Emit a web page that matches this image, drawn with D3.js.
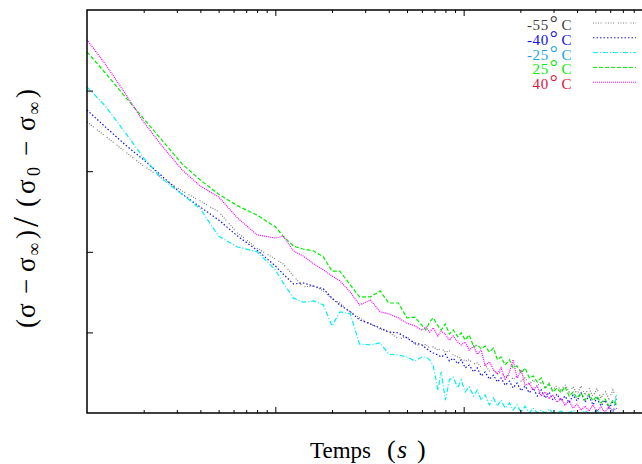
<!DOCTYPE html>
<html>
<head>
<meta charset="utf-8">
<script src="https://cdn.jsdelivr.net/npm/d3@7"></script>
<style>
  body { margin: 0; background: #fff; }
  text { font-family: "Liberation Serif", "DejaVu Serif", serif; }
</style>
</head>
<body>
<svg id="chart" width="642" height="464"></svg>
<script>

// time (s), common to every series
var temps = [1, 1.25, 1.6, 2, 2.5, 3.2, 4, 5, 6.3, 8,
  10, 11, 12.5, 14, 16, 18, 20, 22, 25, 28,
  32, 36, 40, 45, 50, 55, 60, 63, 66, 69,
  73, 76, 80, 84, 88, 93, 97, 102, 107, 113,
  118, 124, 130, 137, 144, 151, 158, 166, 175, 183,
  192, 202, 212, 223, 234, 246, 258, 271, 284, 298,
  313, 329, 345, 363, 381, 400, 420, 441, 463, 486,
  510, 536, 563, 591, 620, 650];

var legendLabels = ["-55", "-40", "-25", "25", "40"];

var m55 = [0.722, 0.687, 0.648, 0.613, 0.583, 0.551, 0.526, 0.499, 0.447, 0.409,
  0.382, 0.370, 0.340, 0.313, 0.315, 0.303, 0.283, 0.273, 0.251, 0.236,
  0.221, 0.208, 0.203, 0.184, 0.189, 0.171, 0.166, 0.171, 0.161, 0.164,
  0.156, 0.161, 0.151, 0.154, 0.144, 0.139, 0.136, 0.129, 0.132, 0.122,
  0.124, 0.114, 0.119, 0.104, 0.107, 0.097, 0.102, 0.089, 0.094, 0.084,
  0.092, 0.079, 0.087, 0.072, 0.082, 0.067, 0.077, 0.062, 0.074, 0.057,
  0.069, 0.055, 0.072, 0.052, 0.065, 0.047, 0.067, 0.045, 0.062, 0.040,
  0.060, 0.037, 0.055, 0.035, 0.057, 0.032];

var m40 = [0.752, 0.710, 0.665, 0.628, 0.588, 0.543, 0.511, 0.479, 0.439, 0.404,
  0.365, 0.345, 0.320, 0.323, 0.315, 0.308, 0.285, 0.268, 0.251, 0.231,
  0.221, 0.211, 0.201, 0.199, 0.186, 0.174, 0.169, 0.161, 0.154, 0.149,
  0.144, 0.139, 0.146, 0.129, 0.136, 0.122, 0.132, 0.112, 0.119, 0.102,
  0.112, 0.092, 0.102, 0.084, 0.094, 0.077, 0.087, 0.069, 0.079, 0.062,
  0.074, 0.055, 0.067, 0.050, 0.062, 0.042, 0.057, 0.037, 0.052, 0.032,
  0.047, 0.030, 0.042, 0.025, 0.045, 0.030, 0.050, 0.027, 0.042, 0.020,
  0.037, 0.017, 0.032, 0.012, 0.027, 0.017];

var m25 = [0.809, 0.762, 0.695, 0.633, 0.581, 0.543, 0.506, 0.439, 0.412, 0.400,
  0.355, 0.323, 0.285, 0.275, 0.278, 0.268, 0.216, 0.251, 0.246, 0.171,
  0.169, 0.174, 0.146, 0.144, 0.139, 0.129, 0.139, 0.139, 0.132, 0.117,
  0.057, 0.102, 0.032, 0.082, 0.089, 0.062, 0.082, 0.052, 0.065, 0.042,
  0.057, 0.032, 0.045, 0.020, 0.037, 0.017, 0.032, 0.012, 0.025, 0.007,
  0.020, 0.002, 0.017, 0.000, 0.012, 0.000, 0.007, 0.000, 0.010, 0.000,
  0.000, 0.005, 0.000, 0.000, 0.007, 0.000, 0.000, 0.005, 0.000, 0.000,
  0.007, 0.000, 0.000, 0.002, 0.000, 0.045];

var p25 = [0.896, 0.844, 0.784, 0.730, 0.677, 0.618, 0.578, 0.543, 0.514, 0.491,
  0.462, 0.439, 0.414, 0.407, 0.402, 0.387, 0.352, 0.352, 0.318, 0.288,
  0.288, 0.303, 0.273, 0.273, 0.236, 0.238, 0.218, 0.206, 0.226, 0.236,
  0.216, 0.206, 0.221, 0.196, 0.206, 0.189, 0.199, 0.181, 0.194, 0.164,
  0.169, 0.159, 0.166, 0.151, 0.161, 0.132, 0.139, 0.119, 0.132, 0.112,
  0.117, 0.099, 0.112, 0.087, 0.092, 0.077, 0.087, 0.062, 0.072, 0.052,
  0.062, 0.050, 0.065, 0.042, 0.052, 0.037, 0.050, 0.032, 0.047, 0.030,
  0.042, 0.025, 0.035, 0.017, 0.032, 0.020];

var p40 = [0.926, 0.866, 0.792, 0.722, 0.663, 0.603, 0.563, 0.536, 0.484, 0.442,
  0.434, 0.439, 0.402, 0.390, 0.370, 0.355, 0.340, 0.328, 0.300, 0.268,
  0.280, 0.251, 0.246, 0.236, 0.223, 0.216, 0.206, 0.213, 0.201, 0.211,
  0.191, 0.203, 0.196, 0.181, 0.191, 0.176, 0.169, 0.176, 0.156, 0.166,
  0.146, 0.156, 0.117, 0.127, 0.107, 0.097, 0.112, 0.082, 0.102, 0.132,
  0.087, 0.107, 0.069, 0.074, 0.057, 0.067, 0.042, 0.052, 0.035, 0.045,
  0.027, 0.037, 0.020, 0.030, 0.012, 0.022, 0.007, 0.017, 0.005, 0.020,
  0.005, 0.015, 0.002, 0.017, 0.005, 0.012];

var series = [
  {values: m55, line: "#7a7a7a", text: "#404040", dash: "1,1.5,1,1.5,1,1.5,1,4"},
  {values: m40, line: "#1414e0", text: "#1010ee", dash: "1.5,2"},
  {values: m25, line: "#00f0f0", text: "#1aa3e8", dash: "5,2,1,2"},
  {values: p25, line: "#00ee00", text: "#00ee00", dash: "4,2"},
  {values: p40, line: "#ff00ff", text: "#dc143c", dash: "1,1"}
];

var svg = d3.select("#chart");

var plotLeft = 87, plotTop = 10, plotBottom = 413, plotRight = 652;

var x = d3.scaleLog().domain([1, 1000]).range([plotLeft, plotRight]);
var y = d3.scaleLinear().domain([0, 1]).range([plotBottom, plotTop]);

svg.append("clipPath").attr("id", "plot-clip")
  .append("rect")
  .attr("x", plotLeft).attr("y", plotTop)
  .attr("width", plotRight - plotLeft).attr("height", plotBottom - plotTop);

// curves
var line = d3.line()
  .x(function(d){ return x(d[0]); })
  .y(function(d){ return y(d[1]); });

var curves = svg.append("g").attr("clip-path", "url(#plot-clip)");

series.forEach(function(s){
  var pts = temps.map(function(t, i){ return [t, s.values[i]]; });
  curves.append("path")
    .datum(pts)
    .attr("d", line)
    .attr("fill", "none")
    .attr("stroke", s.line)
    .attr("stroke-width", 1.2)
    .attr("stroke-dasharray", s.dash);
});

// ticks: log x, minor 2..9, major on decades
var xTicks = x.ticks().filter(function(t){ return t > 1 && t < 1000; });
function isMajor(t){ return Math.abs(Math.log10(t) - Math.round(Math.log10(t))) < 1e-9; }

var xBottom = svg.append("g")
  .attr("transform", "translate(0," + plotBottom + ")")
  .call(d3.axisBottom(x).tickValues(xTicks).tickSize(-3).tickSizeOuter(0).tickFormat(""));
var xTop = svg.append("g")
  .attr("transform", "translate(0," + plotTop + ")")
  .call(d3.axisTop(x).tickValues(xTicks).tickSize(-3).tickSizeOuter(0).tickFormat(""));

xBottom.selectAll(".tick line").attr("y2", function(d){ return isMajor(d) ? -6 : -3; });
xTop.selectAll(".tick line").attr("y2", function(d){ return isMajor(d) ? 6 : 3; });

var yAxis = svg.append("g")
  .attr("transform", "translate(" + plotLeft + ",0)")
  .call(d3.axisLeft(y).tickValues([0.2, 0.4, 0.6, 0.8]).tickSize(-6).tickSizeOuter(0).tickFormat(""));

[xBottom, xTop, yAxis].forEach(function(g){
  g.select(".domain").remove();
  g.selectAll(".tick line").attr("stroke", "#000").attr("stroke-width", 1);
});

// frame
svg.append("rect")
  .attr("x", plotLeft).attr("y", plotTop)
  .attr("width", plotRight - plotLeft).attr("height", plotBottom - plotTop)
  .attr("fill", "none").attr("stroke", "#000").attr("stroke-width", 1.5);

// legend
var legend = svg.append("g");
legendLabels.forEach(function(lab, i){
  var s = series[i];
  var base = 30 + i * 14.8;
  var txt = legend.append("text")
    .attr("x", 572).attr("y", base)
    .attr("text-anchor", "end")
    .attr("font-size", 15)
    .attr("letter-spacing", 0.6)
    .attr("fill", s.text);
  txt.append("tspan").text(lab);
  txt.append("tspan").attr("font-size", 20).attr("dx", 1).text("\u00b0");
  txt.append("tspan").attr("dx", 3).text("C");

  legend.append("line")
    .attr("x1", 593).attr("x2", 636)
    .attr("y1", base - 7).attr("y2", base - 7)
    .attr("stroke", s.line)
    .attr("stroke-width", 1)
    .attr("stroke-dasharray", s.dash);
});

// axis titles
var xt = svg.append("text")
  .attr("y", 458)
  .attr("font-size", 23);
xt.append("tspan").attr("x", 310).text("Temps");
xt.append("tspan").attr("x", 387).attr("font-size", 26).text("(");
xt.append("tspan").attr("x", 397).attr("font-size", 26).attr("font-style", "italic").text("s");
xt.append("tspan").attr("x", 417).attr("font-size", 26).text(")");

// y title, glyphs placed along the rotated baseline
var yt = svg.append("text")
  .attr("transform", "translate(35,328) rotate(-90)")
  .attr("font-size", 27);
var pieces = [
  {t: "(", at: 0}, {t: "\u03c3", at: 10}, {t: "\u2212", at: 34}, {t: "\u03c3", at: 56},
  {t: "\u221e", at: 72, sub: true}, {t: ")", at: 89}, {t: "/", at: 101, big: true}, {t: "(", at: 121},
  {t: "\u03c3", at: 134}, {t: "0", at: 152, sub: true}, {t: "\u2212", at: 172},
  {t: "\u03c3", at: 197}, {t: "\u221e", at: 213, sub: true}, {t: ")", at: 230}
];
pieces.forEach(function(p){
  yt.append("tspan")
    .attr("x", p.at)
    .attr("y", p.sub ? 5 : (p.big ? 3 : 0))
    .attr("font-size", p.sub ? 18 : (p.big ? 36 : 27))
    .text(p.t);
});

</script>
</body>
</html>
